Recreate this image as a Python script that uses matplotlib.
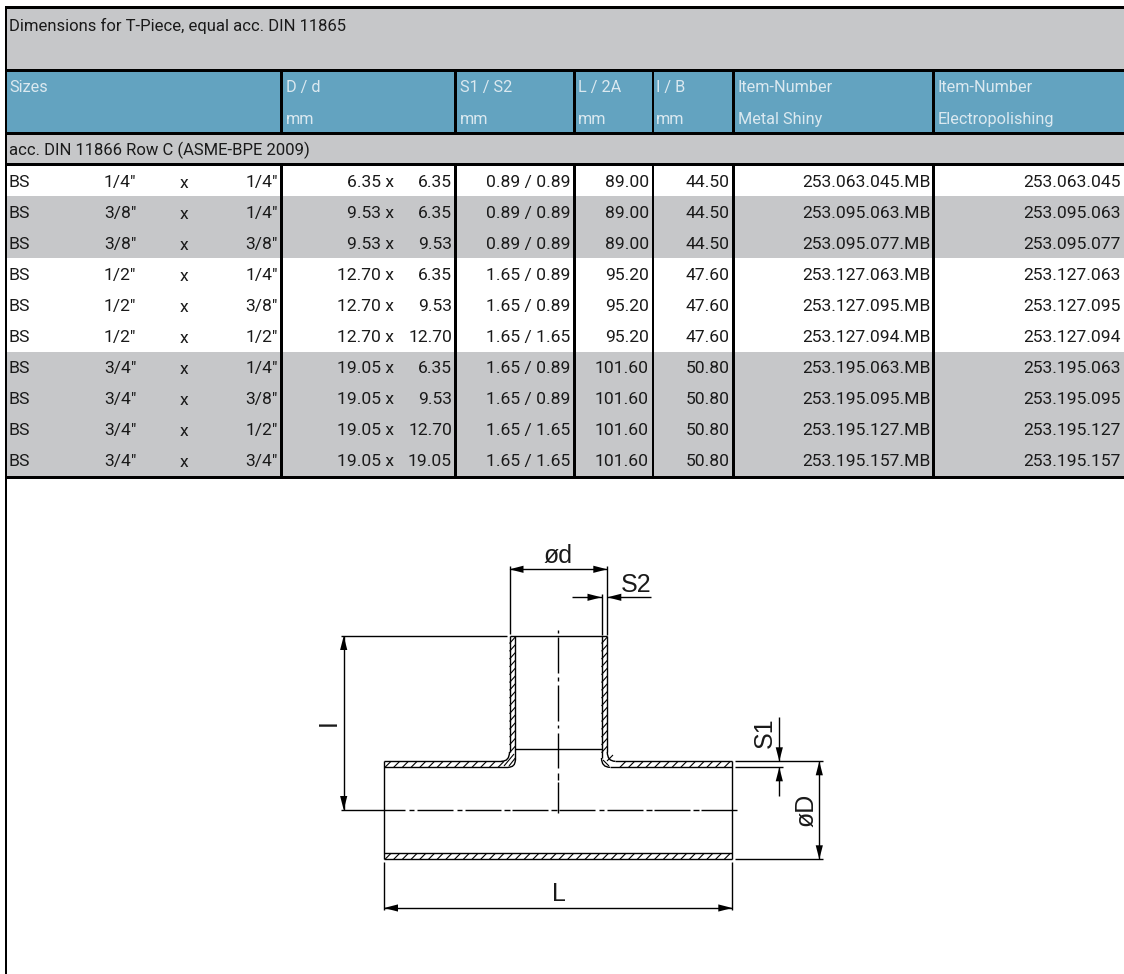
import matplotlib
matplotlib.use("Agg")
import matplotlib.pyplot as plt
from matplotlib.patches import Rectangle, PathPatch, Polygon
from matplotlib.path import Path

FONT = ["Roboto", "Liberation Sans", "DejaVu Sans"]
FONT2 = ["Liberation Sans", "DejaVu Sans"]
GRAY = "#c6c7c9"; BLUE = "#63a3c0"; HEAD = "#dbe9f0"; INK = "#1a1a1a"
FS = 12.6
FS_TITLE = 12.0
FS_HEAD = 11.7
FS_DRAW = 18

title = "Dimensions for T-Piece, equal acc. DIN 11865"
section = "acc. DIN 11866 Row C (ASME-BPE 2009)"
col_heads = [("Sizes", ""), ("D / d", "mm"), ("S1 / S2", "mm"), ("L / 2A", "mm"), ("I / B", "mm"),
             ("Item-Number", "Metal Shiny"), ("Item-Number", "Electropolishing")]
col_head_x = [9, 286, 460, 577.5, 656, 737.5, 937.5]
prefix = ["BS"] * 10
size_a = ['1/4"', '3/8"', '3/8"', '1/2"', '1/2"', '1/2"', '3/4"', '3/4"', '3/4"', '3/4"']
size_b = ['1/4"', '1/4"', '3/8"', '1/4"', '3/8"', '1/2"', '1/4"', '3/8"', '1/2"', '3/4"']
dia_D = ["6.35", "9.53", "9.53", "12.70", "12.70", "12.70", "19.05", "19.05", "19.05", "19.05"]
dia_d = ["6.35", "6.35", "9.53", "6.35", "9.53", "12.70", "6.35", "9.53", "12.70", "19.05"]
wall = ["0.89 / 0.89", "0.89 / 0.89", "0.89 / 0.89", "1.65 / 0.89", "1.65 / 0.89", "1.65 / 1.65",
        "1.65 / 0.89", "1.65 / 0.89", "1.65 / 1.65", "1.65 / 1.65"]
length_L = ["89.00", "89.00", "89.00", "95.20", "95.20", "95.20", "101.60", "101.60", "101.60", "101.60"]
length_I = ["44.50", "44.50", "44.50", "47.60", "47.60", "47.60", "50.80", "50.80", "50.80", "50.80"]
item_shiny = ["253.063.045.MB", "253.095.063.MB", "253.095.077.MB", "253.127.063.MB", "253.127.095.MB",
              "253.127.094.MB", "253.195.063.MB", "253.195.095.MB", "253.195.127.MB", "253.195.157.MB"]
item_elec = ["253.063.045", "253.095.063", "253.095.077", "253.127.063", "253.127.095",
             "253.127.094", "253.195.063", "253.195.095", "253.195.127", "253.195.157"]
shaded = [False, True, True, False, False, False, True, True, True, True]

W, H = 1124, 974
fig = plt.figure(figsize=(W / 100, H / 100), dpi=100, facecolor="white")
ax = fig.add_axes([0, 0, 1, 1])
ax.set_xlim(0, W); ax.set_ylim(H, 0); ax.axis("off")


def band(y0, y1, color, x0=7, x1=W, z=1):
    ax.add_patch(Rectangle((x0, y0), x1 - x0, y1 - y0, fc=color, ec="none", zorder=z))


def txt(x, y, s, ha="left", color=INK, fam=FONT, fs=FS, **kw):
    ax.text(x, y, s, ha=ha, va="center", color=color, family=fam, fontsize=fs, zorder=5, **kw)


# table bands
band(8, 70, GRAY); band(71, 133, BLUE); band(134, 164, GRAY)
row_top = 165.0; row_h = 31.1
for i, sh in enumerate(shaded):
    if sh:
        band(row_top + i * row_h, row_top + (i + 1) * row_h, GRAY)
# rules
for y0, y1 in [(6, 8.7), (69, 72), (131.7, 134.7), (163, 166), (476, 479)]:
    band(y0, y1, "black", x0=4.7, z=3)
band(6, H, "black", x0=4.7, x1=7.3, z=3)
for x in [280.3, 454, 573, 651.6, 732, 932]:
    band(72, 132, "black", x0=x, x1=x + 2.8, z=3)
    band(165, 477, "black", x0=x, x1=x + 2.8, z=3)

txt(9, 25.5, title, fs=FS_TITLE)
for x, (a, b) in zip(col_head_x, col_heads):
    txt(x, 87.5, a, color=HEAD, fs=FS_HEAD)
    if b:
        txt(x, 119.5, b, color=HEAD, fs=FS_HEAD)
txt(9, 150.5, section, fs=FS_TITLE)
for i in range(10):
    y = row_top + (i + 0.5) * row_h + 1.5
    txt(9, y, prefix[i])
    txt(104, y, size_a[i])
    txt(180, y + 1, "x")
    txt(278, y, size_b[i], ha="right")
    txt(394, y, dia_D[i] + " x", ha="right")
    txt(452, y, dia_d[i], ha="right")
    txt(570, y, wall[i], ha="right")
    txt(649, y, length_L[i], ha="right")
    txt(730, y, length_I[i], ha="right")
    txt(930.5, y, item_shiny[i], ha="right")
    txt(1121, y, item_elec[i], ha="right")

# ---- technical drawing ----
LW = 1.0
HW = 0.8
CX = 558.4; CY = 810
BL, BR = 384, 732.3           # body ends
OT, IT, IB, OB = 761.3, 767.3, 853.3, 859.3
OL, IL, IR, OR = 509.5, 515.3, 601.5, 607.3
TOP = 636


def seg(x0, y0, x1, y1, lw=LW):
    ax.plot([x0, x1], [y0, y1], color="black", lw=lw, solid_capstyle="butt", zorder=4)


def curve(p0, c, p1):
    ax.add_patch(PathPatch(Path([p0, c, p1], [Path.MOVETO, Path.CURVE3, Path.CURVE3]),
                           fc="none", ec="black", lw=LW, zorder=4))


def arrow(tx, ty, dx, dy, L=14, hw=3.6):
    bx, by = tx + dx * L, ty + dy * L
    ax.add_patch(Polygon([(tx, ty), (bx - dy * hw, by - dx * hw), (bx + dy * hw, by + dx * hw)],
                         fc="black", ec="none", zorder=5))


# walls
seg(OL, TOP, OL, 752); seg(IL, TOP, IL, 760)
seg(IR, TOP, IR, 758); seg(OR, TOP, OR, 752)
seg(OL, TOP, OR, TOP)
seg(IL, 749.3, IR, 749.3)
curve((OL, 752), (OL, OT), (501.5, OT)); curve((IL, 760), (IL, IT), (508, IT))
curve((OR, 752), (OR, OT), (615.3, OT)); curve((IR, 758), (IR, IT), (610, IT))
seg(BL, OT, 501.5, OT); seg(BL, IT, 508, IT)
seg(615.3, OT, BR, OT); seg(610, IT, BR, IT)
seg(BL, IB, BR, IB); seg(BL, OB, BR, OB)
seg(BL, OT, BL, OB); seg(BR, OT, BR, OB)

# hatching
STEP = 8.7
STEP_V = 7.8
x = BL + 1
while x < BR - 6:
    seg(x, OB, x + 6, IB, lw=HW)
    if x + 6 < 505 or x > 612:
        seg(x, IT, x + 6, OT, lw=HW)
    x += STEP
y = TOP + 1
while y < 748:
    seg(OL, y + 6.5, IL, y, lw=HW)
    seg(IR, y + 6.5, OR, y, lw=HW)
    y += STEP_V
seg(509, 766, IL, 758, lw=HW); seg(504, 766, 514, 754, lw=HW)
seg(603, 760, 609, 766, lw=HW); seg(607, 761, 613, 755, lw=HW)

# centre lines (long dash + dot)
seg(341, CY, 405, CY)
x = 417.3
seg(409, CY, 414, CY)
while x < BR:
    seg(x, CY, min(x + 36, 736.7), CY)
    if x + 45 < 736.7:
        seg(x + 39.5, CY, x + 45, CY)
    x += 47.3
for y0, y1 in [(630, 633), (637, 673), (677, 681), (685, 721), (725, 728), (733, 768), (773, 780), (782, 813)]:
    seg(CX, y0, CX, y1)

# ød
seg(OL, 566, OL, 634); seg(OR, 566, OR, 635); seg(IR, 594, IR, 635)
seg(OL, 569.3, OR, 569.3)
arrow(OL, 569.3, 1, 0); arrow(OR, 569.3, -1, 0)
txt(558, 556, "ød", ha="center", fam=FONT2, fs=FS_DRAW)
# S2
seg(572, 597.3, IR, 597.3); seg(OR, 597.3, 651, 597.3)
arrow(IR, 597.3, -1, 0); arrow(OR, 597.3, 1, 0)
txt(636, 585, "S2", ha="center", fam=FONT2, fs=FS_DRAW)
# l
seg(341, TOP, 506.7, TOP)
seg(343.7, TOP, 343.7, CY)
arrow(343.7, TOP, 0, 1); arrow(343.7, CY, 0, -1)
txt(329, 723, "I", ha="center", fam=FONT2, fs=FS_DRAW, rotation=90)
# L
seg(BL, 862, BL, 910); seg(BR, 862, BR, 910)
seg(BL, 908, BR, 908)
arrow(BL, 908, 1, 0); arrow(BR, 908, -1, 0)
txt(559, 894, "L", ha="center", fam=FONT2, fs=FS_DRAW)
# S1 / øD
seg(735, OT, 823, OT); seg(735, IT, 783, IT); seg(735, OB, 823, OB)
seg(779.3, 717, 779.3, OT); seg(779.3, IT, 779.3, 796)
arrow(779.3, OT, 0, -1); arrow(779.3, IT, 0, 1)
seg(819.3, OT, 819.3, OB)
arrow(819.3, OT, 0, 1); arrow(819.3, OB, 0, -1)
txt(765, 733, "S1", ha="center", fam=FONT2, fs=FS_DRAW, rotation=90)
txt(806, 810, "øD", ha="center", fam=FONT2, fs=FS_DRAW, rotation=90)

fig.savefig("out.png", dpi=100, facecolor="white")
